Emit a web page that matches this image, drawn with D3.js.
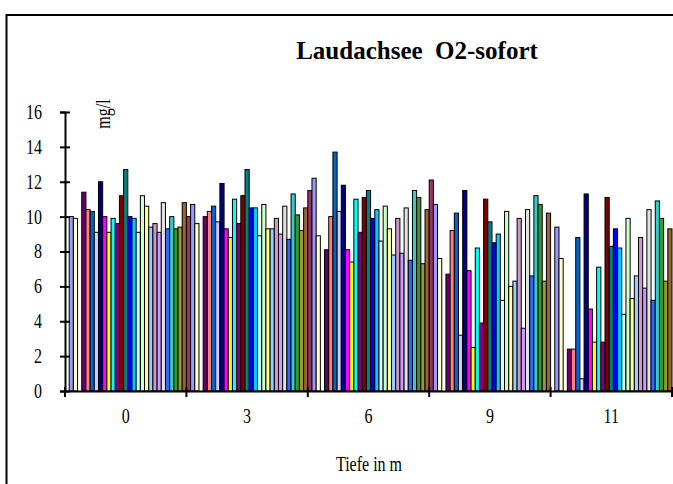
<!DOCTYPE html>
<html>
<head>
<meta charset="utf-8">
<script src="https://cdn.jsdelivr.net/npm/d3@7"></script>
<style>
  body { margin: 0; background: #fff; }
  text { font-family: "Liberation Serif", "Times New Roman", serif; fill: #000; }
</style>
</head>
<body>
<div id="chart"></div>
<script>
// categories (depth in m)
const depths = ["0", "3", "6", "9", "11"];

// series (sampling runs), one colour each; "leer" has no values
const seriesNames = ["s1", "s2", "s3", "leer", "s5", "s6", "s7", "s8", "s9", "s10",
  "s11", "s12", "s13", "s14", "s15", "s16", "s17", "s18", "s19", "s20",
  "s21", "s22", "s23", "s24", "s25", "s26", "s27", "s28", "s29"];
const seriesColors = ["#993366", "#9999FF", "#FFFFCC", "#FFFFFF", "#660066", "#FF8080", "#0066CC", "#CCCCFF", "#000080", "#FF00FF",
  "#FFFF00", "#00FFFF", "#800080", "#800000", "#008080", "#0000FF", "#00CCFF", "#CCFFFF", "#CCFFCC", "#FFFF99",
  "#99CCFF", "#CC99CC", "#CC99FF", "#E3E3E3", "#3366FF", "#33CCCC", "#339933", "#999933", "#996633"];

// O2 values in mg/l, one array per depth, in series order
const o2_0  = [null, 10.0, 9.9, null, 11.4, 10.4, 10.3, 9.1, 12.0, 10.0, 9.1, 9.9, 9.6, 11.2, 12.7, 10.0, 9.9, 9.1, 11.2, 10.6, 9.4, 9.6, 9.1, 10.8, 9.3, 10.0, 9.3, 9.4, 10.8];
const o2_3  = [10.0, 10.7, 9.6, null, 10.0, 10.3, 10.6, 9.7, 11.9, 9.3, 8.8, 11.0, 9.6, 11.2, 12.7, 10.5, 10.5, 8.9, 10.7, 9.3, 9.3, 9.9, 9.0, 10.6, 8.7, 11.3, 10.1, 9.2, 10.5];
const o2_6  = [11.5, 12.2, 8.9, null, 8.1, 10.0, 13.7, 10.3, 11.8, 8.1, 7.4, 11.0, 9.1, 11.1, 11.5, 9.9, 10.4, 8.6, 10.6, 9.3, 7.8, 9.9, 7.9, 10.5, 7.5, 11.5, 11.1, 7.3, 10.4];
const o2_9  = [12.1, 10.7, 7.6, null, 6.7, 9.2, 10.2, 3.2, 11.5, 6.9, 2.5, 8.2, 3.9, 11.0, 9.7, 8.5, 9.0, 5.2, 10.3, 6.0, 6.3, 9.9, 3.6, 10.4, 6.6, 11.2, 10.7, 6.3, 10.2];
const o2_11 = [null, 9.4, 7.6, null, 2.4, 2.4, 8.8, 0.7, 11.3, 4.7, 2.8, 7.1, 2.8, 11.1, 8.3, 9.3, 8.2, 4.4, 9.9, 5.3, 6.6, 8.8, 5.9, 10.4, 5.2, 10.9, 9.9, 6.3, 9.3];
const o2Values = [o2_0, o2_3, o2_6, o2_9, o2_11];

const yTicks = [0, 2, 4, 6, 8, 10, 12, 14, 16];

const W = 673, H = 484;
const plot = {left: 65, right: 672, top: 112, bottom: 391};
const squeeze = "scale(0.8,1)";   // the original lettering is narrow

const svg = d3.select("#chart")
  .append("svg")
    .attr("width", W)
    .attr("height", H);

// outer chart frame (runs past the window on the right and bottom)
svg.append("rect")
  .attr("x", 6.5)
  .attr("y", 15)
  .attr("width", 720)
  .attr("height", 520)
  .attr("fill", "#fff")
  .attr("stroke", "#000")
  .attr("stroke-width", 2);

const x = d3.scaleBand()
  .domain(depths)
  .range([plot.left, plot.right])
  .padding(0);

const xs = d3.scaleBand()
  .domain(seriesNames)
  .range([0, x.bandwidth()])
  .padding(0);

const y = d3.scaleLinear()
  .domain([0, 16])
  .range([plot.bottom, plot.top]);

// bars
const groups = svg.append("g")
  .selectAll("g")
  .data(depths)
  .join("g")
    .attr("transform", d => `translate(${x(d)},0)`);

groups.selectAll("rect")
  .data((d, i) => seriesNames.map((s, j) => ({s: s, v: o2Values[i][j], c: seriesColors[j]})).filter(e => e.v != null))
  .join("rect")
    .attr("x", d => xs(d.s))
    .attr("y", d => y(d.v))
    .attr("width", xs.bandwidth())
    .attr("height", d => y(0) - y(d.v))
    .attr("fill", d => d.c)
    .attr("stroke", "#000")
    .attr("stroke-width", 1);

// y axis
const yAxis = svg.append("g")
  .attr("transform", `translate(${plot.left},0)`)
  .call(d3.axisLeft(y).tickValues(yTicks).tickSize(5));
yAxis.select(".domain").attr("stroke-width", 2);
yAxis.selectAll(".tick line").attr("x2", 5).attr("x1", -5).attr("stroke-width", 2);
yAxis.selectAll(".tick text")
  .attr("font-family", null)
  .attr("x", 0)
  .attr("transform", "translate(-23,0) " + squeeze)
  .style("font-size", "20px");

// x axis
const xAxis = svg.append("g")
  .attr("transform", `translate(0,${plot.bottom})`)
  .call(d3.axisBottom(x).tickSize(0).tickPadding(18));
xAxis.select(".domain").attr("stroke-width", 2);
xAxis.selectAll(".tick text")
  .attr("font-family", null)
  .attr("transform", squeeze)
  .style("font-size", "20px");
// boundary ticks between depth categories
xAxis.selectAll(".sep")
  .data(depths.concat(["end"]))
  .join("line")
    .attr("class", "sep")
    .attr("x1", (d, i) => i < depths.length ? x(d) : plot.right)
    .attr("x2", (d, i) => i < depths.length ? x(d) : plot.right)
    .attr("y1", -4)
    .attr("y2", 6)
    .attr("stroke", "#000")
    .attr("stroke-width", 2);

// titles
svg.append("text")
  .attr("text-anchor", "middle")
  .attr("transform", "translate(417,59)")
  .style("font-size", "25px")
  .style("font-weight", "bold")
  .style("white-space", "pre")
  .text("Laudachsee  O2-sofort");

svg.append("text")
  .attr("text-anchor", "middle")
  .attr("transform", "translate(110,114) rotate(-90) " + squeeze)
  .style("font-size", "20px")
  .text("mg/l");

svg.append("text")
  .attr("text-anchor", "middle")
  .attr("transform", "translate(369,471) " + squeeze)
  .style("font-size", "20px")
  .text("Tiefe in m");
</script>
</body>
</html>
